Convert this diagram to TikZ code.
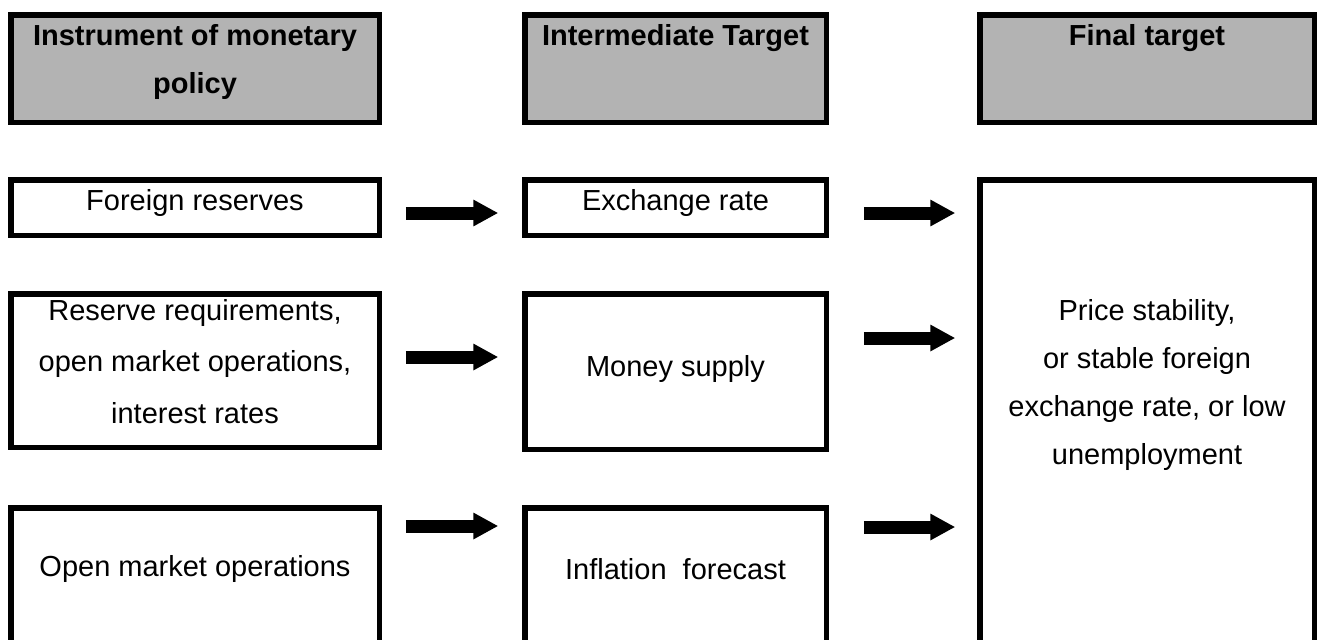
\documentclass[tikz,border=0pt]{standalone}
\usepackage{fontspec}
\setmainfont{Liberation Sans}
\usetikzlibrary{arrows.meta,calc}
\definecolor{headgray}{RGB}{179,179,179}
\begin{document}
\begin{tikzpicture}[x=0.5pt,y=-0.5pt,
  box/.style={draw=black,line width=2.75pt,fill=white,inner sep=0pt},
  headbox/.style={box,fill=headgray},
  txt/.style={font=\fontsize{14.5pt}{26pt}\selectfont,align=center,inner sep=0pt},
  htxt/.style={font=\fontsize{14.5pt}{24pt}\selectfont\bfseries,align=center,inner sep=0pt},
  blockarr/.style={line width=6.5pt,-{Triangle[length=12.5pt,width=12.5pt]}}]
\useasboundingbox (0,0) rectangle (1321,639);
\clip (0,0) rectangle (1321,639);
\fill[white] (0,0) rectangle (1321,639);
% headers
\node[headbox,minimum width=184.25pt,minimum height=53.75pt,
  label={[htxt,yshift=3.25pt]center:Instrument of monetary\\policy}] (h1) at (195,68.5) {};
\node[headbox,minimum width=150.75pt,minimum height=53.75pt,
  label={[htxt,yshift=15pt]center:Intermediate Target}] (h2) at (675.5,68.5) {};
\node[headbox,minimum width=167.25pt,minimum height=53.75pt,
  label={[htxt,yshift=15pt]center:Final target}] (h3) at (1147,68.5) {};
% row 1
\node[box,minimum width=184.25pt,minimum height=27.75pt,
  label={[txt,yshift=2.25pt]center:Foreign reserves}] (fr) at (195,207.5) {};
\node[box,minimum width=150.75pt,minimum height=27.75pt,
  label={[txt,yshift=2.25pt]center:Exchange rate}] (er) at (675.5,207.5) {};
% final box
\node[box,minimum width=167.25pt,minimum height=258.75pt,
  label={[txt,font=\fontsize{14.5pt}{24pt}\selectfont,yshift=26.75pt]center:Price stability,\\or stable foreign\\exchange rate, or low\\unemployment}] (ft) at (1147,438.5) {};
% row 2
\node[box,minimum width=184.25pt,minimum height=76.75pt,
  label={[txt,font=\fontsize{14.5pt}{25.75pt}\selectfont,yshift=4.5pt]center:Reserve requirements,\\open market operations,\\interest rates}] (rr) at (195,370.5) {};
\node[box,minimum width=150.75pt,minimum height=77.75pt,
  label={[txt,yshift=1.25pt]center:Money supply}] (ms) at (675.5,371.5) {};
% row 3
\node[box,minimum width=184.25pt,minimum height=94.75pt,
  label={[txt,yshift=16.75pt]center:Open market operations}] (om) at (195,602.5) {};
\node[box,minimum width=150.75pt,minimum height=94.75pt,
  label={[txt,yshift=16.75pt]center:Inflation\ \ forecast}] (if) at (675.5,602.5) {};
% arrows
\draw[blockarr] ($(fr.east)+(23.75,5.5)$) -- ($(er.west)+(-23.75,5.5)$);
\draw[blockarr] ($(er.east)+(34.75,5.5)$) -- ($(ft.west |- er.east)+(-21.75,5.5)$);
\draw[blockarr] ($(rr.east)+(23.75,-13.5)$) -- ($(ms.west |- rr.east)+(-23.75,-13.5)$);
\draw[blockarr] ($(ms.east)+(34.75,-33.5)$) -- ($(ft.west |- ms.east)+(-21.75,-33.5)$);
\draw[blockarr] ($(om.east)+(23.75,-76.5)$) -- ($(if.west)+(-23.75,-76.5)$);
\draw[blockarr] ($(if.east)+(34.75,-75.5)$) -- ($(ft.west |- if.east)+(-21.75,-75.5)$);
\end{tikzpicture}
\end{document}
